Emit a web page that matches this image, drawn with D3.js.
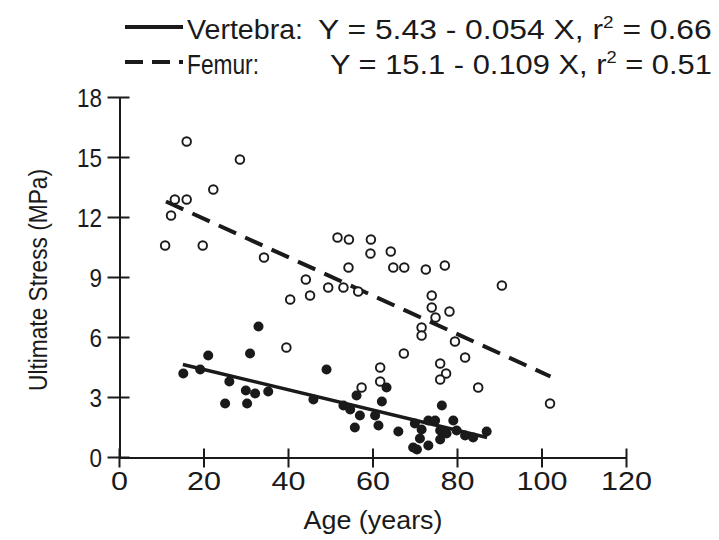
<!DOCTYPE html>
<html><head><meta charset="utf-8">
<script src="https://cdn.jsdelivr.net/npm/d3@7"></script>
<style>
body{margin:0;background:#fff;}
text{font-family:"Liberation Sans",Arial,sans-serif;fill:#1a1a1a;}
</style></head>
<body><svg id="c" width="719" height="540"></svg>
<script>
// ---- data ----
const xTicks = [0,20,40,60,80,100,120];
const yTicks = [0,3,6,9,12,15,18];
const femurPoints = [
 [10.8,10.6],[12.2,12.1],[13.1,12.9],[15.9,12.9],[15.9,15.8],[19.7,10.6],[22.2,13.4],[28.5,14.9],
 [34.2,10.0],[39.5,5.5],[40.4,7.9],[44.1,8.9],[45.1,8.1],[49.4,8.5],[51.6,11.0],[53.0,8.5],
 [54.2,9.5],[54.3,10.9],[56.5,8.3],[57.3,3.5],[59.4,10.2],[59.5,10.9],[61.7,4.5],[61.7,3.8],
 [64.2,10.3],[64.8,9.5],[67.4,9.5],[67.3,5.2],[71.5,6.5],[71.5,6.1],[72.5,9.4],[73.9,8.1],
 [73.9,7.5],[74.8,7.0],[75.9,4.7],[77.3,4.2],[75.9,3.9],[77.0,9.6],[78.1,7.3],[79.4,5.8],
 [81.8,5.0],[84.9,3.5],[90.5,8.6],[101.9,2.7]
];
const vertebraPoints = [
 [15.1,4.2],[19.1,4.4],[21.0,5.1],[26.0,3.8],[25.0,2.7],[29.9,3.35],[30.2,2.7],[30.9,5.2],
 [32.1,3.2],[32.9,6.55],[35.2,3.3],[45.9,2.9],[49.0,4.4],[53.0,2.6],[54.6,2.4],[55.7,1.5],
 [56.1,3.1],[56.9,2.1],[60.5,2.1],[61.3,1.6],[62.1,2.8],[63.2,3.5],[66.0,1.3],[69.5,0.5],
 [69.9,1.7],[70.4,0.4],[71.1,0.95],[71.5,1.4],[73.1,1.85],[73.1,0.6],[74.7,1.85],[75.9,1.35],
 [75.9,0.9],[76.3,2.6],[77.4,1.2],[79.0,1.85],[79.8,1.35],[81.8,1.1],[83.7,1.0],[86.9,1.3]
];
const vertebraFit = [[15,4.65],[87,1.0]];
const femurFit = [[11,12.8],[102,4.05]];
const legendLabels = ["Vertebra:","Femur:"];
const legendEq = [["Y = 5.43 - 0.054 X, r","2"," = 0.66"],["Y = 15.1 - 0.109 X, r","2"," = 0.51"]];
const xTitle = "Age (years)";
const yTitle = "Ultimate Stress (MPa)";

// ---- chart ----
const svg = d3.select("#c");
const x = d3.scaleLinear().domain([0,120]).range([119.5,626.5]);
const y = d3.scaleLinear().domain([0,18]).range([457.5,97.5]);
const ink = "#1a1a1a";

// axes
const xAxis = svg.append("g").attr("transform","translate(0,"+y(0)+")")
  .call(d3.axisBottom(x).tickValues(xTicks).tickSize(0).tickPadding(0).tickFormat(""));
xAxis.select(".domain").attr("stroke",ink).attr("stroke-width",2);
const yAxis = svg.append("g").attr("transform","translate("+x(0)+",0)")
  .call(d3.axisLeft(y).tickValues(yTicks).tickSize(0).tickFormat(""));
yAxis.select(".domain").attr("stroke",ink).attr("stroke-width",2);

// crossing ticks
svg.append("g").selectAll("line").data(xTicks).join("line")
  .attr("x1",d=>x(d)).attr("x2",d=>x(d)).attr("y1",y(0)-9).attr("y2",y(0)+10)
  .attr("stroke",ink).attr("stroke-width",2);
svg.append("g").selectAll("line").data(yTicks).join("line")
  .attr("x1",x(0)-12).attr("x2",x(0)+10).attr("y1",d=>y(d)).attr("y2",d=>y(d))
  .attr("stroke",ink).attr("stroke-width",2);

// tick labels
svg.append("g").selectAll("text").data(xTicks).join("text")
  .attr("x",d=>x(d)).attr("y",490).attr("text-anchor","middle")
  .attr("font-size",25)
  .attr("textLength",d=>String(d).length*17).attr("lengthAdjust","spacingAndGlyphs")
  .text(d=>d);
svg.append("g").selectAll("text").data(yTicks).join("text")
  .attr("x",102).attr("y",d=>y(d)+9).attr("text-anchor","end")
  .attr("font-size",25)
  .attr("textLength",d=>String(d).length*12.5).attr("lengthAdjust","spacingAndGlyphs")
  .text(d=>d);

// titles
svg.append("text").attr("x",373).attr("y",529).attr("text-anchor","middle")
  .attr("font-size",26).attr("textLength",139).attr("lengthAdjust","spacingAndGlyphs").text(xTitle);
svg.append("text").attr("transform","translate(47,280) rotate(-90)").attr("text-anchor","middle")
  .attr("font-size",26).attr("textLength",222).attr("lengthAdjust","spacingAndGlyphs").text(yTitle);

// fit lines
const line = d3.line().x(d=>x(d[0])).y(d=>y(d[1]));
svg.append("path").attr("d",line(femurFit)).attr("fill","none").attr("stroke",ink)
  .attr("stroke-width",4).attr("stroke-dasharray","19,10");
svg.append("path").attr("d",line(vertebraFit)).attr("fill","none").attr("stroke",ink)
  .attr("stroke-width",3.5);

// points
svg.append("g").selectAll("circle").data(femurPoints).join("circle")
  .attr("cx",d=>x(d[0])).attr("cy",d=>y(d[1])).attr("r",4.3)
  .attr("fill","#fff").attr("stroke",ink).attr("stroke-width",1.9);
svg.append("g").selectAll("circle").data(vertebraPoints).join("circle")
  .attr("cx",d=>x(d[0])).attr("cy",d=>y(d[1])).attr("r",5)
  .attr("fill",ink);

// legend
const lg = svg.append("g");
const rows = [27,62];
lg.append("line").attr("x1",125).attr("x2",183).attr("y1",rows[0]).attr("y2",rows[0])
  .attr("stroke",ink).attr("stroke-width",4);
lg.append("line").attr("x1",125).attr("x2",183).attr("y1",rows[1]).attr("y2",rows[1])
  .attr("stroke",ink).attr("stroke-width",4).attr("stroke-dasharray","18,9");
const labelW = [116,72];
const eqX = [318,330];
legendLabels.forEach((t,i)=>{
  lg.append("text").attr("x",187).attr("y",rows[i]+12).attr("font-size",27)
    .attr("textLength",labelW[i]).attr("lengthAdjust","spacingAndGlyphs").text(t);
  const eqT = lg.append("text").attr("x",eqX[i]).attr("y",rows[i]+12).attr("font-size",27);
  eqT.append("tspan").text(legendEq[i][0]);
  eqT.append("tspan").attr("font-size",16).attr("dy",-11).text(legendEq[i][1]);
  eqT.append("tspan").attr("dy",11).text(legendEq[i][2]);
  const w = eqT.node().getComputedTextLength();
  const target = 712 - eqX[i];
  eqT.attr("transform",`translate(${eqX[i]},0) scale(${target/w},1) translate(${-eqX[i]},0)`);
});
</script></body></html>
